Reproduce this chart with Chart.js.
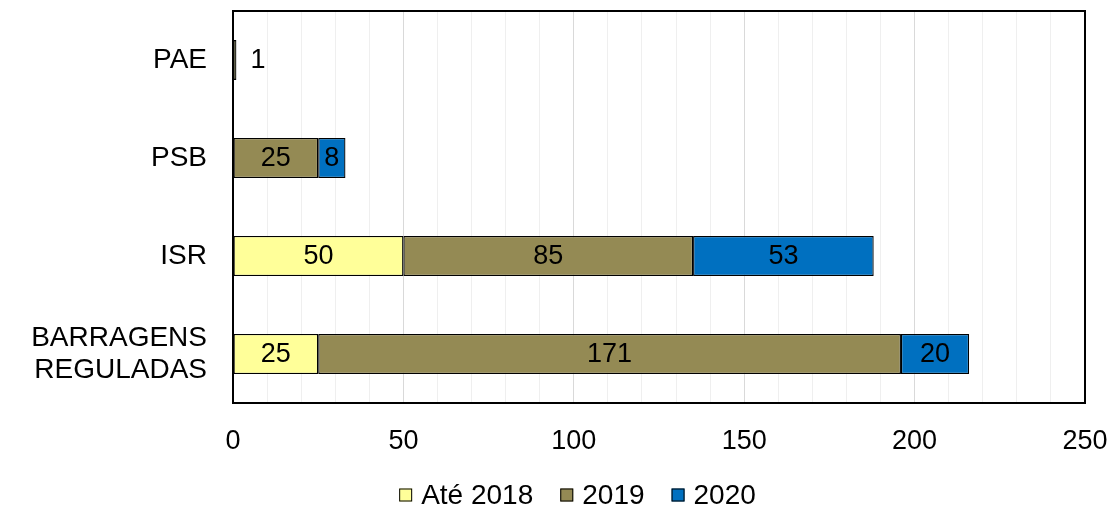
<!DOCTYPE html>
<html>
<head>
<meta charset="utf-8">
<script src="https://cdn.jsdelivr.net/npm/chart.js@4/dist/chart.umd.min.js"></script>
<style>
  body { margin: 0; background: #fff; }
  #wrap { width: 1119px; height: 508px; }
</style>
</head>
<body>
<div id="wrap"><canvas id="chart" width="1119" height="508"></canvas></div>
<script>
// Data
const categories = ['PAE', 'PSB', 'ISR', ['BARRAGENS', 'REGULADAS']];
const seriesNames = ['Até 2018', '2019', '2020'];
const ate2018 = [1, 0, 50, 25];
const y2019 = [0, 25, 85, 171];
const y2020 = [0, 8, 53, 20];
const seriesColors = ['#FFFF99', '#948A54', '#0070C0'];

const FONT = '"Liberation Sans", Arial, sans-serif';

// Border round the plot area
const plotBorder = {
    id: 'plotBorder',
    beforeDatasetsDraw(chart) {
        const a = chart.chartArea;
        const ctx = chart.ctx;
        ctx.save();
        ctx.strokeStyle = '#000';
        ctx.lineWidth = 2;
        ctx.strokeRect(a.left, a.top, a.right - a.left, a.bottom - a.top);
        ctx.restore();
    }
};

// Value labels on the bars
const barLabels = {
    id: 'barLabels',
    afterDatasetsDraw(chart) {
        const ctx = chart.ctx;
        ctx.save();
        ctx.font = '27px ' + FONT;
        ctx.fillStyle = '#000';
        ctx.textBaseline = 'middle';
        chart.data.datasets.forEach((ds, i) => {
            const meta = chart.getDatasetMeta(i);
            meta.data.forEach((bar, j) => {
                const v = ds.data[j];
                if (!v) return;
                const text = String(v);
                const w = ctx.measureText(text).width;
                const len = Math.abs(bar.x - bar.base);
                if (len < w + 4) {
                    ctx.textAlign = 'left';
                    ctx.fillText(text, bar.x + 14, bar.y + 1);
                } else {
                    ctx.textAlign = 'center';
                    ctx.fillText(text, (bar.x + bar.base) / 2, bar.y + 1);
                }
            });
        });
        ctx.restore();
    }
};

// Legend drawn at the bottom, boxes close to their text like the original
const bottomLegend = {
    id: 'bottomLegend',
    afterDraw(chart) {
        const ctx = chart.ctx;
        const box = 13, gap = 9, spacing = 27;
        ctx.save();
        ctx.font = '28px ' + FONT;
        ctx.textBaseline = 'middle';
        ctx.textAlign = 'left';
        const items = chart.data.datasets.map(ds => ({
            text: ds.label,
            color: ds.backgroundColor,
            w: box + gap + ctx.measureText(ds.label).width
        }));
        const total = items.reduce((s, it) => s + it.w, 0) + spacing * (items.length - 1);
        let x = (chart.width - total) / 2 + 18;
        const y = chart.height - 13;
        items.forEach(it => {
            ctx.fillStyle = it.color;
            ctx.fillRect(x, y - box / 2, box, box);
            ctx.strokeStyle = '#000';
            ctx.lineWidth = 1;
            ctx.strokeRect(x + 0.5, y - box / 2 + 0.5, box - 1, box - 1);
            ctx.fillStyle = '#000';
            ctx.fillText(it.text, x + box + gap, y + 1);
            x += it.w + spacing;
        });
        ctx.restore();
    }
};

function makeDatasets() {
    const values = [ate2018, y2019, y2020];
    return seriesNames.map((name, i) => ({
        label: name,
        // empty segments are left out so their borders do not show
        data: values[i].map(v => (v === 0 ? null : v)),
        backgroundColor: seriesColors[i],
        borderColor: '#000',
        borderWidth: 1.3,
        borderSkipped: false,
        barPercentage: 0.41,
        categoryPercentage: 1
    }));
}

document.addEventListener('DOMContentLoaded', function() {
    initializeChart();
});

function initializeChart() {
    const ctx = document.getElementById('chart');
    new Chart(ctx, {
        type: 'bar',
        data: {
            labels: categories,
            datasets: makeDatasets()
        },
        options: {
            indexAxis: 'y',
            responsive: false,
            devicePixelRatio: 1,
            animation: false,
            layout: { padding: { top: 11, right: 34, left: 0, bottom: 52 } },
            scales: {
                x: {
                    stacked: true,
                    min: 0,
                    max: 250,
                    border: { display: false },
                    grid: {
                        drawTicks: false,
                        lineWidth: 1,
                        color: c => (c.tick && c.tick.value % 50 === 0) ? '#d9d9d9' : '#efefef'
                    },
                    ticks: {
                        stepSize: 10,
                        autoSkip: false,
                        maxRotation: 0,
                        padding: 22,
                        color: '#000',
                        font: { family: FONT, size: 27 },
                        callback: v => (v % 50 === 0 ? v : '')
                    },
                    afterFit(scale) {
                        scale.height = 53;
                        scale.paddingLeft = 0;
                        scale.paddingRight = 0;
                    }
                },
                y: {
                    stacked: true,
                    border: { display: false },
                    grid: { display: false, drawTicks: false },
                    ticks: {
                        padding: 26,
                        color: '#000',
                        font: { family: FONT, size: 28, lineHeight: 1.15 }
                    },
                    afterFit(scale) {
                        scale.width = 233;
                        scale.paddingTop = 0;
                        scale.paddingBottom = 0;
                    }
                }
            },
            plugins: {
                legend: { display: false },
                tooltip: { enabled: false }
            }
        },
        plugins: [plotBorder, barLabels, bottomLegend]
    });
}
</script>
</body>
</html>
